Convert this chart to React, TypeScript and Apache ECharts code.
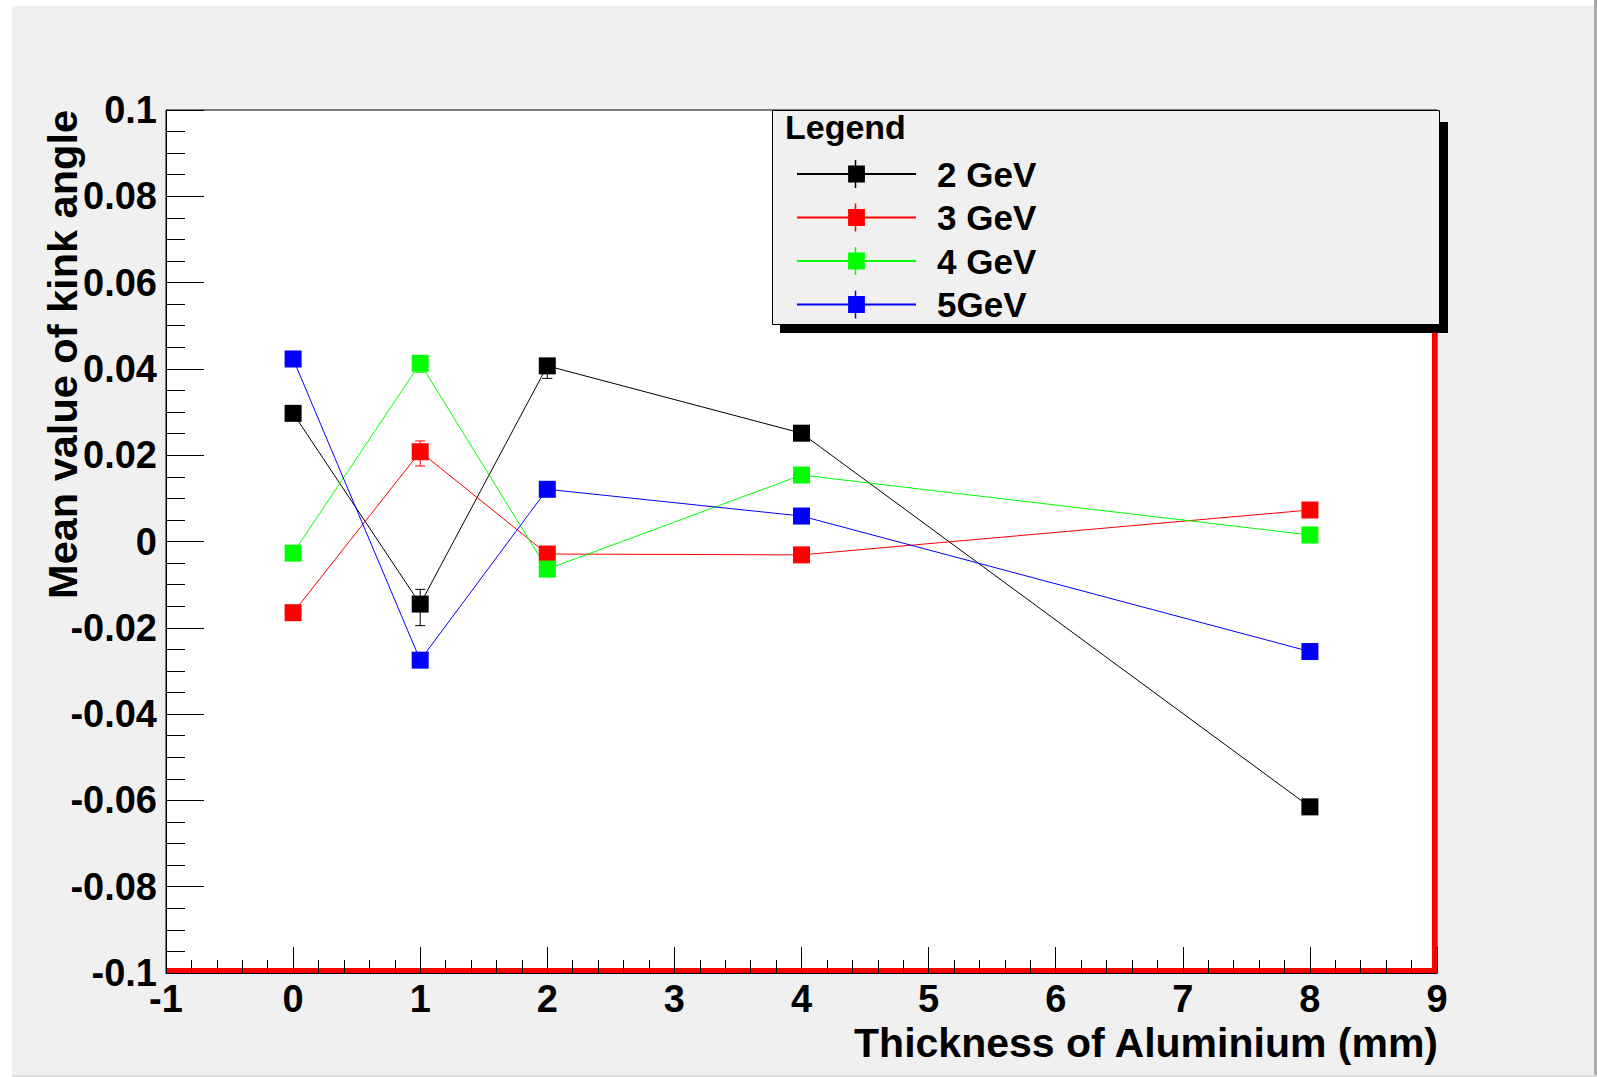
import React, { useEffect, useRef } from 'react';
import * as echarts from 'echarts';

// ---- data ----
const THICKNESS = [0, 1, 2, 4, 8];
const SERIES_NAMES = ['2 GeV', '3 GeV', '4 GeV', '5GeV'];
const SERIES_COLORS = ['#000000', '#ff0000', '#00ff00', '#0000ff'];
const MEAN_2GEV = [0.0297, -0.0145, 0.0407, 0.0251, -0.0615];
const MEAN_3GEV = [-0.0165, 0.0208, -0.0029, -0.0031, 0.0073];
const MEAN_4GEV = [-0.0027, 0.0413, -0.0064, 0.0154, 0.0015];
const MEAN_5GEV = [0.0423, -0.0275, 0.0121, 0.0059, -0.0255];
// asymmetric errors (upper, lower)
const ERR_UP_2GEV = [0.001, 0.0034, 0.0012, 0.001, 0.001];
const ERR_DN_2GEV = [0.001, 0.005, 0.0029, 0.001, 0.001];
const ERR_UP_3GEV = [0.001, 0.0025, 0.001, 0.001, 0.001];
const ERR_DN_3GEV = [0.001, 0.0033, 0.001, 0.001, 0.001];
const ERR_UP_4GEV = [0.001, 0.0012, 0.001, 0.001, 0.001];
const ERR_DN_4GEV = [0.001, 0.0021, 0.001, 0.001, 0.001];
const ERR_UP_5GEV = [0.001, 0.001, 0.001, 0.001, 0.001];
const ERR_DN_5GEV = [0.001, 0.001, 0.001, 0.001, 0.001];
const X_MIN = -1;
const X_MAX = 9;
const X_INTERVAL = 1;
const Y_MIN = -0.1;
const Y_MAX = 0.1;
const Y_INTERVAL = 0.02;
const X_TITLE = 'Thickness of Aluminium (mm)';
const Y_TITLE = 'Mean value of kink angle';
const LEGEND_TITLE = 'Legend';

const MEANS = [MEAN_2GEV, MEAN_3GEV, MEAN_4GEV, MEAN_5GEV];
const ERRS_UP = [ERR_UP_2GEV, ERR_UP_3GEV, ERR_UP_4GEV, ERR_UP_5GEV];
const ERRS_DN = [ERR_DN_2GEV, ERR_DN_3GEV, ERR_DN_4GEV, ERR_DN_5GEV];

const FONT = '"Liberation Sans", Arial, Helvetica, sans-serif';
const GREY = '#f0f0f0';

export default function App() {
  const ref = useRef<HTMLDivElement>(null);

  useEffect(() => {
    if (!ref.current) return;
    const chart = echarts.init(ref.current, undefined, { renderer: 'svg' });

    const lineSeries = SERIES_NAMES.map((name, i) => ({
      name,
      type: 'line',
      data: THICKNESS.map((x, j) => [x, MEANS[i][j]]),
      symbol: 'rect',
      symbolSize: 17,
      showSymbol: true,
      lineStyle: { color: SERIES_COLORS[i], width: 1 },
      itemStyle: { color: SERIES_COLORS[i] },
      z: 3,
    }));

    const errSeries = SERIES_NAMES.map((name, i) => ({
      name: name + ' err',
      type: 'custom',
      data: THICKNESS.map((x, j) => [x, MEANS[i][j], ERRS_UP[i][j], ERRS_DN[i][j]]),
      encode: { x: 0, y: 1 },
      z: 2,
      renderItem: (params: any, api: any) => {
        const x = api.value(0);
        const y = api.value(1);
        const top = api.coord([x, y + api.value(2)]);
        const bot = api.coord([x, y - api.value(3)]);
        const cx = top[0];
        const st = { stroke: SERIES_COLORS[i], lineWidth: 1 };
        return {
          type: 'group',
          children: [
            { type: 'line', shape: { x1: cx, y1: top[1], x2: cx, y2: bot[1] }, style: st },
            { type: 'line', shape: { x1: cx - 5, y1: top[1], x2: cx + 5, y2: top[1] }, style: st },
            { type: 'line', shape: { x1: cx - 5, y1: bot[1], x2: cx + 5, y2: bot[1] }, style: st },
          ],
        };
      },
    }));

    const frameSeries = {
      name: 'frame',
      type: 'custom',
      data: [[X_MIN, Y_MIN, X_MAX, Y_MAX]],
      encode: { x: [0, 2], y: [1, 3] },
      z: 1,
      renderItem: (params: any, api: any) => {
        const p0 = api.coord([api.value(0), api.value(1)]);
        const p1 = api.coord([api.value(2), api.value(1)]);
        const p2 = api.coord([api.value(2), api.value(3)]);
        const h = 2.5;
        return {
          type: 'polyline',
          shape: { points: [[p0[0], p0[1] - h], [p1[0] - h, p1[1] - h], [p2[0] - h, p2[1]]] },
          style: { stroke: '#ff0000', lineWidth: 5, fill: 'none' },
        };
      },
    };

    const legendX = 796;
    const legendY0 = 174;
    const legendStep = 43.5;
    const legendFont = 35;

    const graphic: any[] = [
      { type: 'rect', shape: { x: 0, y: 0, width: 1597, height: 6 }, style: { fill: '#ffffff' }, z: 1 },
      { type: 'rect', shape: { x: 0, y: 0, width: 12, height: 1077 }, style: { fill: '#ffffff' }, z: 1 },
      { type: 'rect', shape: { x: 1594, y: 0, width: 3, height: 1077 }, style: { fill: '#aaaaaa' }, z: 1 },
      { type: 'rect', shape: { x: 12, y: 1075, width: 1585, height: 2 }, style: { fill: '#dddddd' }, z: 1 },
      // legend shadow and box
      { type: 'rect', shape: { x: 780, y: 122, width: 668, height: 211 }, style: { fill: '#000000' }, z: 10 },
      { type: 'rect', shape: { x: 772.5, y: 110.5, width: 667, height: 214 }, style: { fill: GREY, stroke: '#000000', lineWidth: 1 }, z: 11 },
      {
        type: 'text', x: 785, y: 127, z: 12,
        style: { text: LEGEND_TITLE, font: `bold 34px ${FONT}`, fill: '#000', textAlign: 'left', textVerticalAlign: 'middle' },
      },
      // axis titles
      {
        type: 'text', x: 62, y: 110, rotation: Math.PI / 2, z: 12,
        style: { text: Y_TITLE, font: `bold 41.5px ${FONT}`, fill: '#000', textAlign: 'right', textVerticalAlign: 'middle' },
      },
      {
        type: 'text', x: 1438, y: 1043, z: 12,
        style: { text: X_TITLE, font: `bold 41px ${FONT}`, fill: '#000', textAlign: 'right', textVerticalAlign: 'middle' },
      },
    ];
    SERIES_COLORS.forEach((c, i) => {
      const cy = legendY0 + i * legendStep;
      graphic.push({
        type: 'line', z: 12,
        shape: { x1: legendX + 59.5, y1: cy - 14, x2: legendX + 59.5, y2: cy + 14 },
        style: { stroke: c, lineWidth: 1.5 },
      });
    });

    const option: any = {
      animation: false,
      backgroundColor: GREY,
      grid: {
        left: 166, top: 110, width: 1271, height: 863,
        show: true, backgroundColor: '#ffffff', borderColor: '#000000', borderWidth: 1,
        containLabel: false,
      },
      xAxis: {
        type: 'value', min: X_MIN, max: X_MAX, interval: X_INTERVAL, z: 5,
        axisLine: { show: true, onZero: false, lineStyle: { color: '#000', width: 1 } },
        axisTick: { show: true, inside: true, length: 26, lineStyle: { color: '#000', width: 1 } },
        minorTick: { show: true, splitNumber: 5, length: 13, lineStyle: { color: '#000', width: 1 } },
        splitLine: { show: false },
        axisLabel: {
          show: true, margin: 7, color: '#000', fontFamily: FONT, fontWeight: 'bold', fontSize: 38,
          formatter: (v: number) => String(Math.round(v)),
        },
      },
      yAxis: {
        type: 'value', min: Y_MIN, max: Y_MAX, interval: Y_INTERVAL, z: 5,
        axisLine: { show: true, onZero: false, lineStyle: { color: '#000', width: 1 } },
        axisTick: { show: true, inside: true, length: 38, lineStyle: { color: '#000', width: 1 } },
        minorTick: { show: true, splitNumber: 4, length: 19, lineStyle: { color: '#000', width: 1 } },
        splitLine: { show: false },
        axisLabel: {
          show: true, margin: 9, color: '#000', fontFamily: FONT, fontWeight: 'bold', fontSize: 38,
          padding: [8, 0, 0, 0],
          formatter: (v: number) => {
            const s = parseFloat(v.toFixed(3));
            return s === 0 ? '0' : String(s);
          },
        },
      },
      legend: {
        data: SERIES_NAMES,
        orient: 'vertical',
        left: legendX,
        top: legendY0 - legendFont / 2,
        padding: 0,
        itemWidth: 119,
        itemHeight: 21,
        itemGap: legendStep - legendFont,
        selectedMode: false,
        z: 20,
        textStyle: {
          fontFamily: FONT, fontWeight: 'bold', fontSize: legendFont, color: '#000',
          padding: [0, 0, 0, 16],
        },
      },
      graphic,
      series: [frameSeries, ...errSeries, ...lineSeries],
    };

    chart.setOption(option);
    return () => chart.dispose();
  }, []);

  return (
    <div
      ref={ref}
      style={{ position: 'absolute', left: 0, top: 0, width: 1597, height: 1077 }}
    />
  );
}
